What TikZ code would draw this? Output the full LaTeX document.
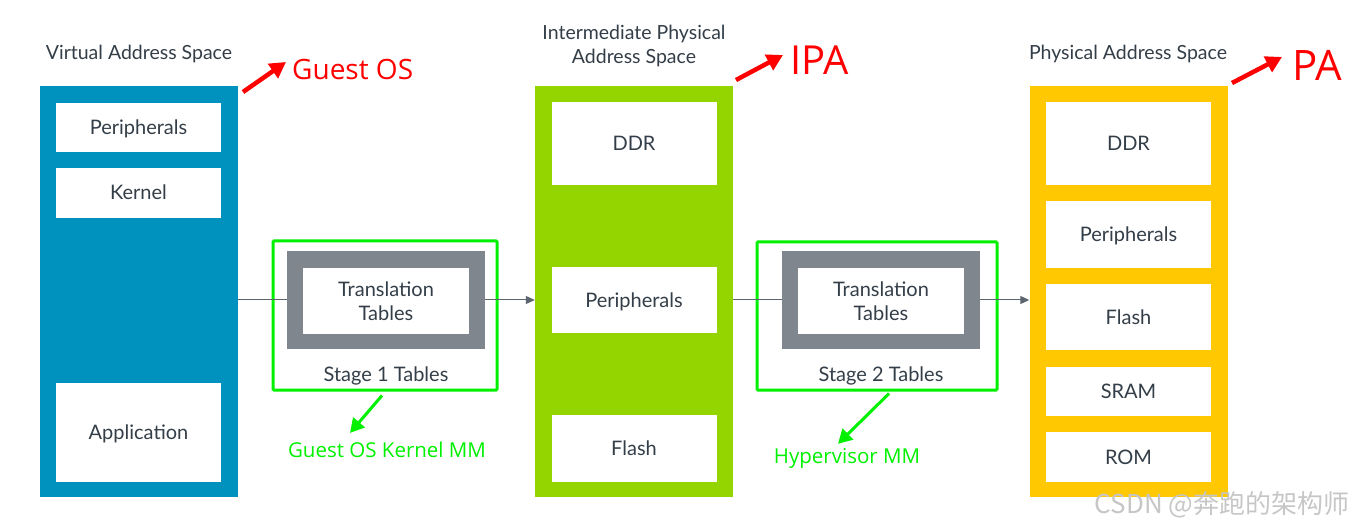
\documentclass[tikz,border=0pt]{standalone}
\usepackage{fontspec}
\setmainfont{Lato}
\newfontfamily\notefont{Open Sans}
\newfontfamily\cjkfont{Noto Sans CJK SC}
\usetikzlibrary{arrows.meta, positioning}
\definecolor{VABlue}   {HTML}{0092BF}
\definecolor{IPAGreen} {HTML}{94D500}
\definecolor{PAYellow} {HTML}{FFC800}
\definecolor{TableGrey}{HTML}{7F868E}
\definecolor{Ink}      {HTML}{333E48}
\definecolor{Mark}     {HTML}{FF0000}
\definecolor{Note}     {HTML}{00F000}

\tikzset{
  column/.style   = {minimum width=198pt, minimum height=411pt, inner sep=0pt},
  region/.style   = {fill=white, minimum width=165pt, inner sep=0pt, text=Ink,
                     text height=14pt, text depth=0pt,
                     font=\fontsize{20}{23}\selectfont},
  title/.style    = {text=Ink, align=center, font=\fontsize{19.5}{24}\selectfont},
  stagebox/.style = {draw=Note, line width=3pt, rounded corners=1pt, inner sep=0pt},
  frame/.style    = {fill=TableGrey, minimum width=198pt, minimum height=98pt, inner sep=0pt},
  link/.style     = {draw=Ink!80, line width=1pt, -{Triangle[length=9pt, width=8pt]}},
  redlabel/.style = {text=Mark, inner sep=0pt, anchor=west},
  redarrow/.style = {draw=Mark, line width=4.5pt, -{Triangle[length=16pt, width=17pt]}},
  note/.style     = {text=Note, inner sep=0pt, font=\notefont\fontsize{20.5}{24}\selectfont},
  notearrow/.style= {draw=Note, line width=3pt, -{Triangle[length=14pt, width=15pt]}}
}

\begin{document}
\begin{tikzpicture}[x=1pt, y=-1pt]
  \useasboundingbox (0,0) rectangle (1357,529);

  % Virtual address space
  \node[column, fill=VABlue] (va) at (139,291.5) {};
  \node[title] (vatitle) at (139,54) {Virtual Address Space};
  \node[region, minimum height=49pt] (vaperi) at (138.5,127.5) {Peripherals};
  \node[region, minimum height=50pt] (vakern) at (138.5,193)   {Kernel};
  \node[region, minimum height=99pt] (vaapp)  at (138.5,432.5) {Application};

  % Intermediate physical address space
  \node[column, fill=IPAGreen] (ipa) at (634,291.5) {};
  \node[title] (ipatitle) at (634,46) {Intermediate Physical\\Address Space};
  \node[region, minimum height=83pt] (ipaddr)  at (634,143.5) {DDR};
  \node[region, minimum height=66pt] (ipaperi) at (634,300)   {Peripherals};
  \node[region, minimum height=67pt] (ipaflash) at (634,448.5) {Flash};

  % Physical address space
  \node[column, fill=PAYellow] (pa) at (1128.5,291.5) {};
  \node[title] (patitle) at (1128,54) {Physical Address Space};
  \foreach \name/\txt/\y/\h in {paddr/DDR/143.5/83, paperi/Peripherals/234.5/67,
                                paflash/Flash/317/66, pasram/SRAM/391.5/49,
                                parom/ROM/457/50}
    \node[region, minimum height=\h pt] (\name) at (1128.5,\y) {\txt};

  % Stage 1
  \node[stagebox, minimum width=224pt, minimum height=149pt] (stage1) at (385,315.5) {};
  \draw[link] (va.east |- ipaperi) -- (ipa.west |- ipaperi);
  \node[frame] (frame1) at (386,300) {};
  \node[region, minimum width=166pt, minimum height=66pt, align=center,
        text height=, text depth=, font=\fontsize{20}{24}\selectfont] (tt1) at (386,301) {Translation\\Tables};
  \node[title, font=\fontsize{20}{23}\selectfont] (st1) at (386,376) {Stage 1 Tables};

  % Stage 2
  \node[stagebox, minimum width=240pt, minimum height=148pt] (stage2) at (877,316) {};
  \draw[link] (ipa.east |- ipaperi) -- (pa.west |- ipaperi);
  \node[frame] (frame2) at (881,300) {};
  \node[region, minimum width=166pt, minimum height=66pt, align=center,
        text height=, text depth=, font=\fontsize{20}{24}\selectfont] (tt2) at (881,301) {Translation\\Tables};
  \node[title, font=\fontsize{20}{23}\selectfont] (st2) at (881,376) {Stage 2 Tables};

  % Red labels
  \node[redlabel, font=\notefont\fontsize{28}{32}\selectfont] (guest) at (292,69) {Guest OS};
  \node[redlabel, font=\notefont\fontsize{40}{44}\selectfont] (ipalabel) at (790,60) {IPA};
  \node[redlabel, font=\notefont\fontsize{42}{46}\selectfont] (palabel) at (1292,65) {PA};
  \coordinate (guesttail) at (243,92);
  \coordinate (ipatail)   at (736,80);
  \coordinate (patail)    at (1232,83);
  \draw[redarrow] (guesttail) -- ([xshift=-6pt, yshift=7pt]guest.west);
  \draw[redarrow] (ipatail)   -- ([xshift=-7pt, yshift=5pt]ipalabel.west);
  \draw[redarrow] (patail)    -- ([xshift=-10pt, yshift=8pt]palabel.west);

  % Green notes
  \node[note] (note1) at (387,450) {Guest OS Kernel MM};
  \node[note] (note2) at (847,458) {Hypervisor MM};
  \draw[notearrow] ([xshift=-3pt, yshift=-4pt]stage1.south) -- ([xshift=-37pt, yshift=9pt]note1.north);
  \draw[notearrow] ([xshift=12pt, yshift=-2pt]stage2.south) -- ([xshift=-9pt, yshift=4pt]note2.north);

  % Watermark
  \node[text=gray!45, inner sep=0pt, font=\cjkfont\fontsize{26}{28}\selectfont] (wm) at (1222,505) {CSDN @奔跑的架构师};
\end{tikzpicture}
\end{document}
